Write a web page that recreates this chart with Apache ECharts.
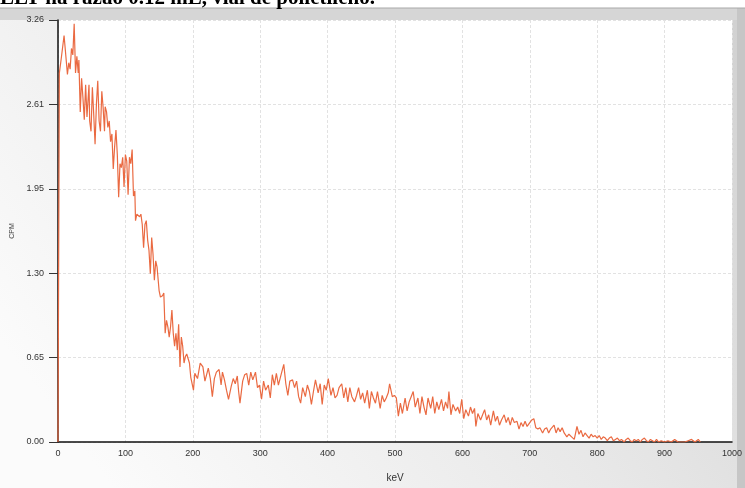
<!DOCTYPE html>
<html>
<head>
<meta charset="utf-8">
<script src="https://cdn.jsdelivr.net/npm/echarts@6/dist/echarts.min.js"></script>
<style>
  html, body { margin: 0; padding: 0; background: #fff; }
  #chart { width: 745px; height: 488px; }
</style>
</head>
<body>
<div id="chart"></div>
<script>
var kev = [0, 2, 5, 9, 11, 14, 16, 18, 20, 22, 24, 26, 28, 30, 31, 33, 35, 37, 39, 41, 43, 46, 47, 49,
    51, 53, 55, 57, 59, 61, 63, 65, 67, 69, 70, 72, 74, 76, 78, 80, 82, 84, 86, 88, 90, 92, 94, 96, 98,
    100, 102, 104, 106, 108, 110, 112, 114, 115, 117, 119, 121, 123, 125, 127, 129, 131, 133, 135, 137,
    139, 141, 143, 145, 147, 150, 152, 155, 157, 159, 161, 163, 165, 167, 169, 171, 173, 175, 177, 179,
    181, 183, 185, 187, 189, 191, 193, 195, 197,
    201, 203, 207, 211, 215, 218, 223, 226, 229, 232, 235, 239, 242, 244, 247, 250, 253, 257, 260, 263,
    266, 268, 270, 274, 277, 280, 283, 286, 289, 293, 296, 299, 302, 305, 308, 312, 315, 318, 321, 324,
    327, 331, 335, 338, 341, 344, 348, 351, 354, 357, 360, 363, 367, 370, 373, 376, 379, 382, 386, 389,
    392, 395, 398, 401, 405, 408, 411, 414, 417, 421, 424, 427, 430, 433, 436, 440, 443, 446, 449, 452,
    455, 459, 462, 465, 468, 471, 474, 478, 481, 484, 487, 490, 492, 496, 499, 502, 505, 508, 511, 515,
    518, 521, 524, 527, 530, 534, 537, 540, 543, 546, 549, 553, 556, 559, 562, 565, 569, 572, 575, 578,
    580, 583, 586, 590, 593, 596, 599, 602, 605, 609, 612, 615, 618, 620, 623, 627, 630, 633, 636, 639,
    642, 646, 649, 652, 655, 658, 662, 665, 668, 671, 674, 677, 681, 684, 687, 690, 693, 696, 700, 703,
    706, 709, 712, 715, 719, 722, 725, 728, 731, 736, 739, 742, 745, 748, 751, 755, 758, 762, 766, 770,
    773, 776, 779, 782, 785, 788, 791, 794, 797, 800, 803, 806, 809, 812, 815, 818, 821, 824, 827, 830,
    833, 836, 840, 843, 846, 849, 852, 855, 858, 861, 864, 867, 870, 873, 876, 879, 882, 885, 888, 891,
    895, 900, 905, 910, 915, 920, 925, 930, 935, 940, 945, 950, 953];
var cpm = [0, 2.85, 2.97, 3.14, 3.02, 2.84, 2.93, 2.88, 3.04, 2.99, 3.23, 2.85, 2.98, 2.85, 2.95, 2.55,
    2.81, 2.66, 2.49, 2.76, 2.51, 2.76, 2.48, 2.40, 2.74, 2.53, 2.30, 2.61, 2.79, 2.48, 2.40, 2.71, 2.58,
    2.40, 2.59, 2.55, 2.43, 2.48, 2.32, 2.38, 2.11, 2.28, 2.41, 2.22, 1.89, 2.15, 2.12, 2.20, 1.97, 2.22,
    2.17, 1.91, 2.20, 2.15, 2.26, 1.90, 1.94, 1.71, 1.76, 1.75, 1.74, 1.76, 1.68, 1.50, 1.68, 1.71, 1.56,
    1.48, 1.30, 1.58, 1.45, 1.25, 1.40, 1.35, 1.17, 1.12, 1.13, 1.15, 0.84, 0.94, 0.89, 0.81, 0.89, 1.02,
    0.84, 0.74, 0.84, 0.71, 0.91, 0.58, 0.81, 0.74, 0.61, 0.66, 0.68, 0.68, 0.61, 0.50,
    0.40, 0.53, 0.49, 0.61, 0.58, 0.47, 0.57, 0.49, 0.35, 0.49, 0.54, 0.56, 0.44, 0.54, 0.48, 0.40, 0.33,
    0.43, 0.49, 0.45, 0.51, 0.39, 0.30, 0.47, 0.52, 0.53, 0.44, 0.54, 0.48, 0.54, 0.42, 0.44, 0.33, 0.47,
    0.40, 0.44, 0.34, 0.52, 0.44, 0.53, 0.44, 0.52, 0.60, 0.45, 0.36, 0.47, 0.48, 0.42, 0.47, 0.35, 0.30,
    0.42, 0.35, 0.44, 0.39, 0.29, 0.39, 0.48, 0.38, 0.45, 0.29, 0.44, 0.40, 0.49, 0.36, 0.42, 0.34, 0.36,
    0.42, 0.45, 0.34, 0.42, 0.31, 0.42, 0.35, 0.31, 0.36, 0.42, 0.33, 0.38, 0.30, 0.40, 0.26, 0.39, 0.34,
    0.30, 0.39, 0.26, 0.36, 0.31, 0.34, 0.38, 0.45, 0.35, 0.36, 0.34, 0.20, 0.30, 0.22, 0.34, 0.24, 0.31,
    0.35, 0.39, 0.27, 0.34, 0.22, 0.35, 0.27, 0.21, 0.34, 0.26, 0.35, 0.22, 0.31, 0.25, 0.33, 0.24, 0.31,
    0.26, 0.39, 0.21, 0.29, 0.24, 0.27, 0.22, 0.33, 0.18, 0.25, 0.20, 0.27, 0.22, 0.26, 0.12, 0.22, 0.17,
    0.21, 0.25, 0.17, 0.21, 0.13, 0.24, 0.16, 0.20, 0.13, 0.17, 0.21, 0.15, 0.19, 0.13, 0.19, 0.15, 0.16,
    0.10, 0.15, 0.12, 0.16, 0.12, 0.15, 0.17, 0.18, 0.11, 0.10, 0.11, 0.07, 0.10, 0.11, 0.07, 0.10, 0.13,
    0.07, 0.11, 0.08, 0.11, 0.07, 0.04, 0.06, 0.04, 0.02, 0.12,
    0.06, 0.09, 0.04, 0.07, 0.05, 0.03, 0.06, 0.04, 0.05, 0.03, 0.05, 0.02, 0.04, 0.03, 0.01, 0.03, 0.04,
    0.01, 0.02, 0.03, 0.01, 0.02, 0.00, 0.02, 0.03, 0.01, 0.00, 0.02, 0.01, 0.02, 0.00, 0.02, 0.03, 0.01,
    0.00, 0.02, 0.01, 0.00, 0.02, 0.00, 0.01, 0.00, 0.01, 0.00, 0.02, 0.00, 0.00, 0.00, 0.01, 0.02, 0.00,
    0.02, 0.00];

var yStep = 0.652;
var yTickLabels = ['0.00', '0.65', '1.30', '1.95', '2.61', '3.26'];

var chart = echarts.init(document.getElementById('chart'));

var spectrum = kev.map(function (k, i) { return [k, cpm[i]]; });

chart.setOption({
    animation: false,
    backgroundColor: '#fff',
    graphic: [
        {
            type: 'rect',
            z: -10,
            silent: true,
            shape: { x: 0, y: 8, width: 745, height: 480 },
            style: {
                fill: {
                    type: 'linear', x: 0.15, y: 1, x2: 1, y2: 0,
                    colorStops: [
                        { offset: 0, color: '#fbfbfb' },
                        { offset: 0.5, color: '#e8e8e8' },
                        { offset: 1, color: '#d0d0d0' }
                    ]
                }
            }
        },
        {
            type: 'rect',
            z: -9,
            silent: true,
            shape: { x: 0, y: 8, width: 745, height: 12 },
            style: { fill: '#d6d6d6' }
        },
        {
            type: 'rect',
            z: -9,
            silent: true,
            shape: { x: 737, y: 8, width: 8, height: 480 },
            style: { fill: '#c6c6c6' }
        },
        {
            type: 'line',
            z: -8,
            silent: true,
            shape: { x1: 0, y1: 8, x2: 745, y2: 8 },
            style: { stroke: '#a8a8a8', lineWidth: 1 }
        },
        {
            type: 'text',
            z: 10,
            silent: true,
            x: 0,
            y: -12,
            style: {
                text: 'LLT na razão 0.12 mL, vial de polietileno.',
                font: 'bold 21px "Liberation Serif", "DejaVu Serif", serif',
                fill: '#000',
                verticalAlign: 'top'
            }
        }
    ],
    grid: {
        left: 58,
        right: 11,
        top: 20,
        bottom: 44,
        show: true,
        backgroundColor: '#fff',
        borderWidth: 0
    },
    xAxis: {
        type: 'value',
        min: 0,
        max: 1000,
        interval: 100,
        name: 'keV',
        nameLocation: 'middle',
        nameGap: 31,
        nameTextStyle: { fontFamily: 'Liberation Sans', fontSize: 10, color: '#333' },
        axisLine: { lineStyle: { color: '#111', width: 1.5 } },
        axisTick: { show: false },
        axisLabel: {
            fontFamily: 'Liberation Sans', fontSize: 9, color: '#333', margin: 7,
            formatter: function (v) { return String(v); }
        },
        splitLine: { show: true, lineStyle: { color: '#e2e2e2', type: [3, 2], width: 1 } }
    },
    yAxis: {
        type: 'value',
        min: 0,
        max: 3.26,
        interval: yStep,
        name: 'CPM',
        nameLocation: 'middle',
        nameGap: 41,
        nameRotate: 90,
        nameTextStyle: { fontFamily: 'Liberation Sans', fontSize: 7, color: '#444' },
        axisLine: { show: true, lineStyle: { color: '#111', width: 1.5 } },
        axisTick: { show: true, length: 9, lineStyle: { color: '#333' } },
        axisLabel: {
            fontFamily: 'Liberation Sans',
            fontSize: 9,
            color: '#333',
            margin: 14,
            formatter: function (v) {
                var i = Math.round(v / yStep);
                return yTickLabels[i] !== undefined ? yTickLabels[i] : '';
            }
        },
        splitLine: { show: true, lineStyle: { color: '#e2e2e2', type: [3, 2], width: 1 } }
    },
    series: [{
        type: 'line',
        data: spectrum,
        showSymbol: false,
        clip: true,
        lineStyle: { color: '#ea6a42', width: 1.2 },
        z: 3
    }]
});
</script>
</body>
</html>
